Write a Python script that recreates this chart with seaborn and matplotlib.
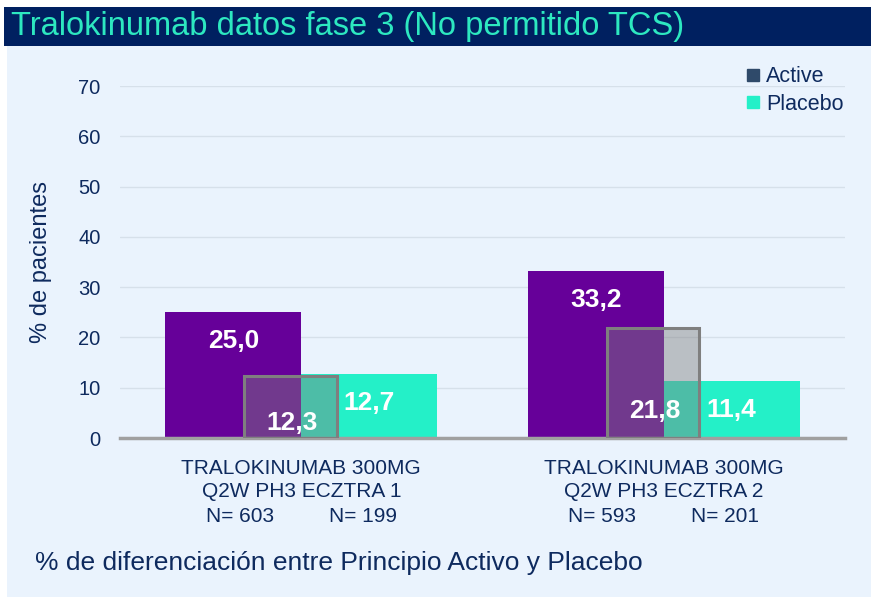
import pandas as pd
import seaborn as sns
import matplotlib.pyplot as plt
from matplotlib.patches import Rectangle
from matplotlib.lines import Line2D

# Data
studies = ['TRALOKINUMAB 300MG\nQ2W PH3 ECZTRA 1', 'TRALOKINUMAB 300MG\nQ2W PH3 ECZTRA 2']
active = [25.0, 33.2]
placebo = [12.7, 11.4]
diff = [12.3, 21.8]
n_active = [603, 593]
n_placebo = [199, 201]
yticks = [0, 10, 20, 30, 40, 50, 60, 70]

navy = '#0e2a5e'
purple = '#660099'
teal = '#24f0c8'
panel = '#eaf3fd'

df = pd.DataFrame({
    'estudio': studies * 2,
    'grupo': ['Active'] * len(studies) + ['Placebo'] * len(studies),
    'pct': active + placebo,
})

sns.set_style('white')
plt.rcParams['font.family'] = ['Liberation Sans', 'DejaVu Sans']

fig = plt.figure(figsize=(8.71, 5.97), dpi=100, facecolor='white')
W, H = 871, 597

# light panel + title bar (behind the axes)
fig.patches.append(Rectangle((7 / W, 0), 1, 1 - 46 / H, transform=fig.transFigure,
                             facecolor=panel, edgecolor='none', zorder=-10))
fig.patches.append(Rectangle((4 / W, 1 - 46 / H), 1, 39 / H, transform=fig.transFigure,
                             facecolor='#002060', edgecolor='none', zorder=-10))
fig.text(11 / W, 1 - 27 / H, 'Tralokinumab datos fase 3 (No permitido TCS)',
         color='#2de8c0', fontsize=23.5, va='center', ha='left')

ax = fig.add_axes([120 / W, 159 / H, 725 / W, (438 - 86) / H])
ax.set_facecolor('none')

sns.barplot(data=df, x='estudio', y='pct', hue='grupo',
            palette={'Active': purple, 'Placebo': teal}, width=0.75,
            legend=False, ax=ax, saturation=1, edgecolor='none', zorder=2)

# value labels inside bars
for i in range(len(studies)):
    for v, off in [(active[i], -0.1875), (placebo[i], 0.1875)]:
        ax.text(i + off, v - 5.8, f'{v:.1f}'.replace('.', ','), color='white',
                fontsize=19, fontweight='bold', ha='center', va='center', zorder=5)

# difference boxes
for i, d in enumerate(diff):
    ax.bar(i - 0.03, d, width=0.255, color=(0.5, 0.5, 0.5, 0.45),
           edgecolor='#7f7f7f', linewidth=2.2, zorder=3)
    ax.text(i - 0.025, d * 0.25, f'{d:.1f}'.replace('.', ','), color='white',
            fontsize=19, fontweight='bold', ha='center', va='center', zorder=5)

ax.set_xlim(-0.5, 1.5)
ax.set_ylim(0, 70)
ax.set_yticks(yticks)
ax.grid(axis='y', color='#d6e0ea', linewidth=1)
ax.set_axisbelow(True)
ax.tick_params(axis='y', length=0, pad=14, labelsize=14.5, labelcolor=navy)
ax.tick_params(axis='x', length=0, pad=15, labelsize=15, labelcolor=navy)
for lab in ax.get_xticklabels():
    lab.set_linespacing(1.3)
sns.despine(ax=ax, left=True)
ax.spines['bottom'].set_color('#a0a0a0')
ax.spines['bottom'].set_linewidth(2.5)
ax.set_xlabel('')
ax.set_ylabel('% de pacientes', fontsize=17, color=navy, labelpad=19)

# N= lines under the study names
for i in range(len(studies)):
    ax.text(i - 0.17, -0.222, f'N= {n_active[i]}', transform=ax.get_xaxis_transform(),
            ha='center', va='center', fontsize=15, color=navy)
    ax.text(i + 0.17, -0.222, f'N= {n_placebo[i]}', transform=ax.get_xaxis_transform(),
            ha='center', va='center', fontsize=15, color=navy)

handles = [Line2D([], [], marker='s', linestyle='none', markersize=8, color='#2f4a6a'),
           Line2D([], [], marker='s', linestyle='none', markersize=8, color=teal)]
fig.legend(handles, ['Active', 'Placebo'], loc='upper right',
           bbox_to_anchor=(863 / W, 1 - 47 / H), frameon=False, fontsize=15.5,
           labelcolor=navy, handletextpad=0.1, handlelength=1.0, labelspacing=0.3)

fig.text(35 / W, 1 - 563 / H, '% de diferenciación entre Principio Activo y Placebo',
         fontsize=19, color=navy, va='center', ha='left')

fig.savefig('out.png', dpi=100, facecolor='white')
